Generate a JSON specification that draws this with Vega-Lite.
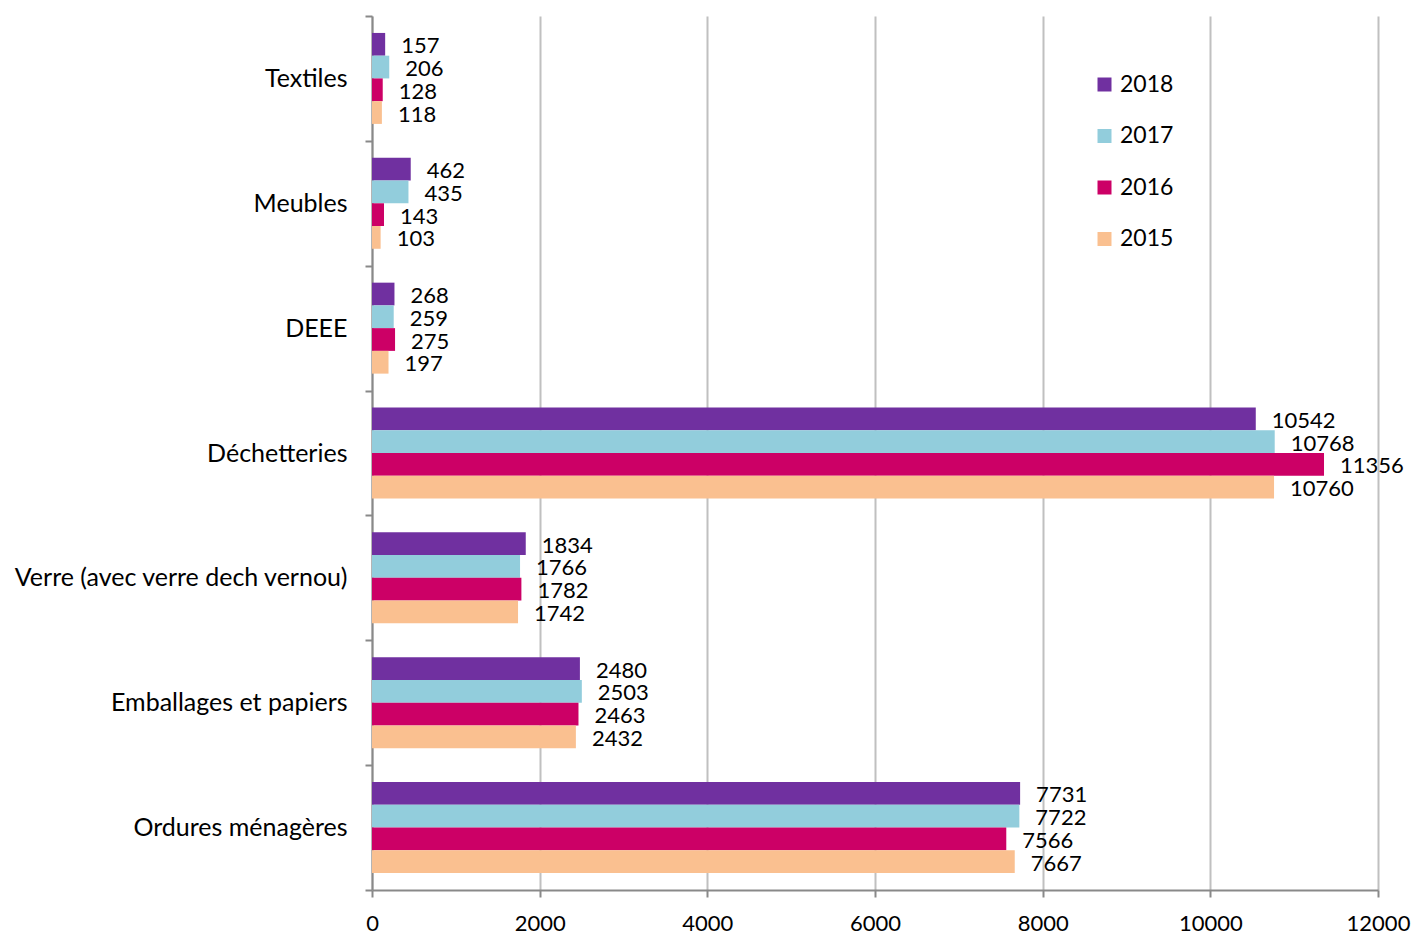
{
  "$schema": "https://vega.github.io/schema/vega-lite/v6.json",
  "width": 1006,
  "height": 874,
  "autosize": {"type": "none"},
  "padding": {"left": 372, "top": 16, "right": 37, "bottom": 45},
  "background": "white",
  "config": {"view": {"stroke": null}, "font": "Lato"},
  "data": {
    "values": [
      {"cat": "Textiles", "year": "2018", "v": 157},
      {"cat": "Textiles", "year": "2017", "v": 206},
      {"cat": "Textiles", "year": "2016", "v": 128},
      {"cat": "Textiles", "year": "2015", "v": 118},
      {"cat": "Meubles\u00a0", "year": "2018", "v": 462},
      {"cat": "Meubles\u00a0", "year": "2017", "v": 435},
      {"cat": "Meubles\u00a0", "year": "2016", "v": 143},
      {"cat": "Meubles\u00a0", "year": "2015", "v": 103},
      {"cat": "DEEE", "year": "2018", "v": 268},
      {"cat": "DEEE", "year": "2017", "v": 259},
      {"cat": "DEEE", "year": "2016", "v": 275},
      {"cat": "DEEE", "year": "2015", "v": 197},
      {"cat": "Déchetteries", "year": "2018", "v": 10542},
      {"cat": "Déchetteries", "year": "2017", "v": 10768},
      {"cat": "Déchetteries", "year": "2016", "v": 11356},
      {"cat": "Déchetteries", "year": "2015", "v": 10760},
      {"cat": "Verre (avec verre dech vernou)", "year": "2018", "v": 1834},
      {"cat": "Verre (avec verre dech vernou)", "year": "2017", "v": 1766},
      {"cat": "Verre (avec verre dech vernou)", "year": "2016", "v": 1782},
      {"cat": "Verre (avec verre dech vernou)", "year": "2015", "v": 1742},
      {"cat": "Emballages et papiers", "year": "2018", "v": 2480},
      {"cat": "Emballages et papiers", "year": "2017", "v": 2503},
      {"cat": "Emballages et papiers", "year": "2016", "v": 2463},
      {"cat": "Emballages et papiers", "year": "2015", "v": 2432},
      {"cat": "Ordures ménagères", "year": "2018", "v": 7731},
      {"cat": "Ordures ménagères", "year": "2017", "v": 7722},
      {"cat": "Ordures ménagères", "year": "2016", "v": 7566},
      {"cat": "Ordures ménagères", "year": "2015", "v": 7667}
    ]
  },
  "encoding": {
    "y": {
      "field": "cat",
      "type": "nominal",
      "sort": ["Textiles", "Meubles\u00a0", "DEEE", "Déchetteries", "Verre (avec verre dech vernou)", "Emballages et papiers", "Ordures ménagères"],
      "scale": {"paddingInner": 0, "paddingOuter": 0},
      "axis": {
        "title": null,
        "tickBand": "extent",
        "domainColor": "#898989",
        "domainWidth": 2,
        "tickColor": "#898989",
        "tickWidth": 2,
        "tickSize": 7,
        "labelFontSize": 25,
        "labelFont": "Lato",
        "labelColor": "#000000",
        "labelPadding": 18,
        "labelLimit": 0,
        "grid": false
      }
    },
    "yOffset": {
      "field": "year",
      "type": "nominal",
      "sort": ["2018", "2017", "2016", "2015"],
      "scale": {"paddingInner": 0, "paddingOuter": 0.745}
    },
    "x": {
      "field": "v",
      "type": "quantitative",
      "scale": {"domain": [0, 12000], "nice": false},
      "axis": {
        "title": null,
        "values": [0, 2000, 4000, 6000, 8000, 10000, 12000],
        "format": "d",
        "grid": true,
        "gridColor": "#C0C0C0",
        "gridWidth": 2,
        "domainColor": "#898989",
        "domainWidth": 2,
        "tickColor": "#898989",
        "tickWidth": 2,
        "tickSize": 7,
        "labelFontSize": 22,
        "labelFont": "Lato",
        "labelColor": "#000000",
        "labelPadding": 16,
        "labelFlush": false
      }
    }
  },
  "layer": [
    {
      "mark": {"type": "bar"},
      "encoding": {
        "color": {
          "field": "year",
          "type": "nominal",
          "scale": {"domain": ["2018", "2017", "2016", "2015"], "range": ["#7030A0", "#92CDDC", "#CC0066", "#FAC090"]},
          "legend": {
            "title": null,
            "orient": "none",
            "legendX": 721,
            "legendY": 57,
            "padding": 0,
            "symbolType": "square",
            "symbolSize": 196,
            "symbolStrokeWidth": 0,
            "labelFontSize": 23,
            "labelFont": "Lato",
            "labelColor": "#000000",
            "labelOffset": 4,
            "rowPadding": 27.5
          }
        }
      }
    },
    {
      "mark": {"type": "text", "align": "left", "baseline": "middle", "dx": 16, "dy": 2, "fontSize": 22, "font": "Lato", "color": "#000000"},
      "encoding": {"text": {"field": "v", "type": "quantitative", "format": "d"}}
    }
  ]
}
